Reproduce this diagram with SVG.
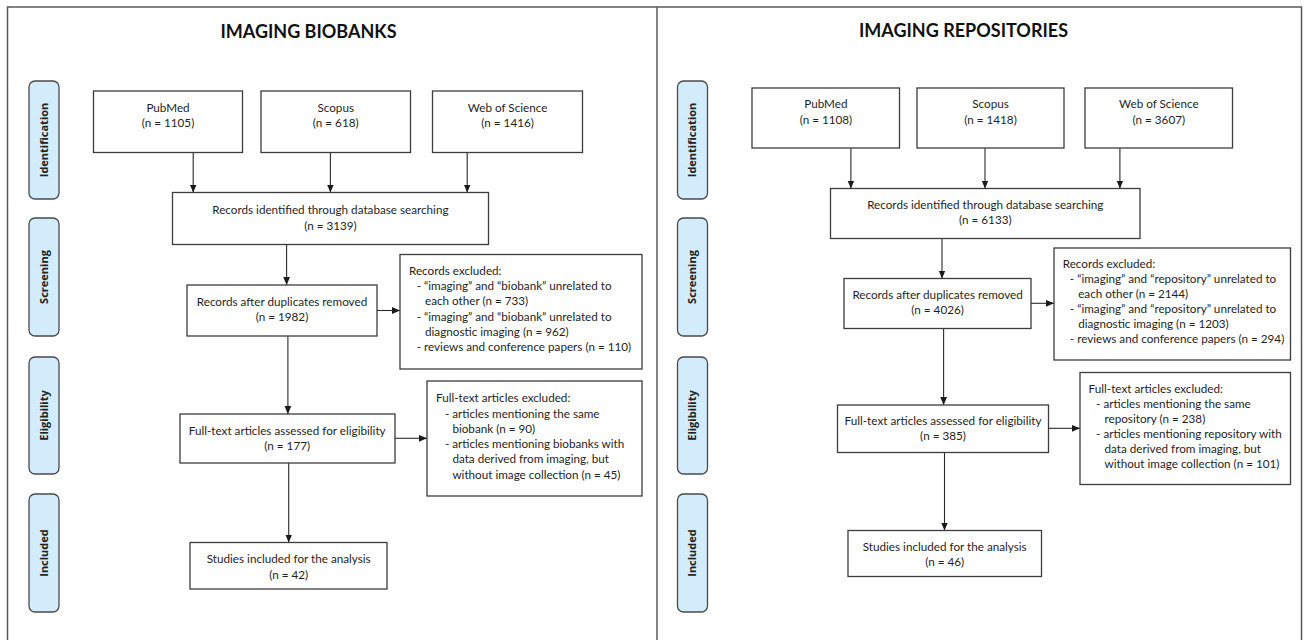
<svg xmlns="http://www.w3.org/2000/svg" width="1305" height="640" viewBox="0 0 1305 640">
<style>
.frame{fill:none;stroke:#5a5a5a;stroke-width:1.5}
.box{fill:#fff;stroke:#3c3c3c;stroke-width:1.3}
.phase{fill:#d3ecfb;stroke:#4a4a4a;stroke-width:1.3}
.t{font-family:Lato,"Liberation Sans",sans-serif;font-size:11.7px;fill:#1e1e1e}
.c{text-anchor:middle}
.title{font-family:Lato,"Liberation Sans",sans-serif;font-size:18px;font-weight:bold;fill:#111;text-anchor:middle}
.pl{font-family:"Open Sans","Liberation Sans",sans-serif;font-size:11px;font-weight:bold;fill:#222;text-anchor:middle}
.ar{stroke:#2a2a2a;stroke-width:1.1;fill:none;marker-end:url(#ah)}
</style>
<defs>
<marker id="ah" markerUnits="userSpaceOnUse" markerWidth="8" markerHeight="8" viewBox="0 0 8 8" refX="8" refY="4" orient="auto">
<path d="M0,0.6 L8,4 L0,7.4 Z" fill="#1a1a1a"/>
</marker>
</defs>
<rect width="1305" height="640" fill="#fff"/>
<g id="frame">
<rect class="frame" x="7.5" y="7" width="1294" height="660"/>
<line class="frame" x1="657" y1="7" x2="657" y2="645"/>
</g>
<g id="titles">
<text class="title" x="308.5" y="38">IMAGING BIOBANKS</text>
<text class="title" x="963.5" y="36.5">IMAGING REPOSITORIES</text>
</g>
<g id="phases-left">
<g id="ph-l-id"><rect class="phase" x="29" y="81" width="30" height="118" rx="6"/><text class="pl" transform="translate(47.8,140) rotate(-90)">Identification</text></g>
<g id="ph-l-sc"><rect class="phase" x="29" y="218" width="30" height="118" rx="6"/><text class="pl" transform="translate(47.8,277) rotate(-90)">Screening</text></g>
<g id="ph-l-el"><rect class="phase" x="29" y="357" width="30" height="117" rx="6"/><text class="pl" transform="translate(47.8,415.5) rotate(-90)">Eligibility</text></g>
<g id="ph-l-in"><rect class="phase" x="29" y="494" width="30" height="118" rx="6"/><text class="pl" transform="translate(47.8,553) rotate(-90)">Included</text></g>
</g>
<g id="phases-right">
<g id="ph-r-id"><rect class="phase" x="677.5" y="81" width="30" height="118" rx="6"/><text class="pl" transform="translate(696.3,140) rotate(-90)">Identification</text></g>
<g id="ph-r-sc"><rect class="phase" x="677.5" y="218" width="30" height="118" rx="6"/><text class="pl" transform="translate(696.3,277) rotate(-90)">Screening</text></g>
<g id="ph-r-el"><rect class="phase" x="677.5" y="357" width="30" height="117" rx="6"/><text class="pl" transform="translate(696.3,415.5) rotate(-90)">Eligibility</text></g>
<g id="ph-r-in"><rect class="phase" x="677.5" y="494" width="30" height="118" rx="6"/><text class="pl" transform="translate(696.3,553) rotate(-90)">Included</text></g>
</g>
<g id="connectors">
<line class="ar" x1="193.2" y1="152.5" x2="193.2" y2="192.5"/>
<line class="ar" x1="330.4" y1="152.5" x2="330.4" y2="192.5"/>
<line class="ar" x1="467.2" y1="152.5" x2="467.2" y2="192.5"/>
<line class="ar" x1="286.6" y1="244.5" x2="286.6" y2="285"/>
<line class="ar" x1="377" y1="310.5" x2="400" y2="310.5"/>
<line class="ar" x1="287.9" y1="336" x2="287.9" y2="414"/>
<line class="ar" x1="395" y1="438.3" x2="427" y2="438.3"/>
<line class="ar" x1="288.7" y1="463" x2="288.7" y2="542.5"/>
<line class="ar" x1="850.9" y1="148" x2="850.9" y2="188.5"/>
<line class="ar" x1="985" y1="148" x2="985" y2="188.5"/>
<line class="ar" x1="1119.9" y1="148" x2="1119.9" y2="188.5"/>
<line class="ar" x1="942" y1="238.5" x2="942" y2="278.5"/>
<line class="ar" x1="1031" y1="303.3" x2="1054" y2="303.3"/>
<line class="ar" x1="943.6" y1="328.5" x2="943.6" y2="405"/>
<line class="ar" x1="1048.5" y1="428.3" x2="1080" y2="428.3"/>
<line class="ar" x1="944.5" y1="452.5" x2="944.5" y2="530.5"/>
</g>
<g id="l-pubmed"><rect class="box" x="93.5" y="91" width="149" height="61.5"/><text class="t c" x="168" y="111.8">PubMed</text><text class="t c" x="168" y="127.4">(n = 1105)</text></g>
<g id="l-scopus"><rect class="box" x="261" y="91" width="149.5" height="61.5"/><text class="t c" x="335.7" y="111.8">Scopus</text><text class="t c" x="335.7" y="127.4">(n = 618)</text></g>
<g id="l-wos"><rect class="box" x="432.5" y="91" width="150" height="61.5"/><text class="t c" x="507.6" y="111.8">Web of Science</text><text class="t c" x="507.6" y="127.4">(n = 1416)</text></g>
<g id="l-identified"><rect class="box" x="172.5" y="192.5" width="316" height="52"/><text class="t c" x="330.4" y="214.1">Records identified through database searching</text><text class="t c" x="330.4" y="229.8">(n = 3139)</text></g>
<g id="l-dup"><rect class="box" x="187" y="285" width="190" height="51"/><text class="t c" x="282" y="305.8">Records after duplicates removed</text><text class="t c" x="282" y="320.8">(n = 1982)</text></g>
<g id="l-excl"><rect class="box" x="400" y="254.5" width="242" height="114.5"/>
<text class="t" x="409" y="275.1">Records excluded:</text>
<text class="t" x="416.7" y="290.4">- “imaging” and “biobank” unrelated to</text>
<text class="t" x="425" y="305.4">each other (n = 733)</text>
<text class="t" x="416.7" y="320.8">- “imaging” and “biobank” unrelated to</text>
<text class="t" x="425" y="336.1">diagnostic imaging (n = 962)</text>
<text class="t" x="416.7" y="351.4">- reviews and conference papers (n = 110)</text></g>
<g id="l-fulltext"><rect class="box" x="180" y="414" width="215" height="49"/><text class="t c" x="287.2" y="435.1">Full-text articles assessed for eligibility</text><text class="t c" x="287.2" y="450.4">(n = 177)</text></g>
<g id="l-ftexcl"><rect class="box" x="427" y="381" width="215" height="115"/>
<text class="t" x="436" y="402.4">Full-text articles excluded:</text>
<text class="t" x="444.9" y="417.8">- articles mentioning the same</text>
<text class="t" x="452.4" y="432.8">biobank (n = 90)</text>
<text class="t" x="444.9" y="448.4">- articles mentioning biobanks with</text>
<text class="t" x="452.4" y="463.4">data derived from imaging, but</text>
<text class="t" x="452.4" y="478.8">without image collection (n = 45)</text></g>
<g id="l-studies"><rect class="box" x="190" y="542.5" width="197" height="46.5"/><text class="t c" x="288.7" y="563.4">Studies included for the analysis</text><text class="t c" x="288.7" y="579.1">(n = 42)</text></g>
<g id="r-pubmed"><rect class="box" x="752" y="88" width="147.5" height="60"/><text class="t c" x="825.9" y="108.4">PubMed</text><text class="t c" x="825.9" y="123.8">(n = 1108)</text></g>
<g id="r-scopus"><rect class="box" x="917" y="88" width="147" height="60"/><text class="t c" x="990.5" y="108.4">Scopus</text><text class="t c" x="990.5" y="123.8">(n = 1418)</text></g>
<g id="r-wos"><rect class="box" x="1085" y="88" width="147.5" height="60"/><text class="t c" x="1158.8" y="108.4">Web of Science</text><text class="t c" x="1158.8" y="123.8">(n = 3607)</text></g>
<g id="r-identified"><rect class="box" x="830.5" y="188.5" width="309.5" height="50"/><text class="t c" x="985.3" y="208.8">Records identified through database searching</text><text class="t c" x="985.3" y="224.1">(n = 6133)</text></g>
<g id="r-dup"><rect class="box" x="844" y="278.5" width="187" height="50"/><text class="t c" x="937.6" y="298.8">Records after duplicates removed</text><text class="t c" x="937.6" y="314.1">(n = 4026)</text></g>
<g id="r-excl"><rect class="box" x="1054" y="248" width="236.5" height="112"/>
<text class="t" x="1062.7" y="268.4">Records excluded:</text>
<text class="t" x="1069.8" y="283.4">- “imaging” and “repository” unrelated to</text>
<text class="t" x="1078.2" y="298.4">each other (n = 2144)</text>
<text class="t" x="1069.8" y="313.4">- “imaging” and “repository” unrelated to</text>
<text class="t" x="1078.2" y="328.1">diagnostic imaging (n = 1203)</text>
<text class="t" x="1069.8" y="343.4">- reviews and conference papers (n = 294)</text></g>
<g id="r-fulltext"><rect class="box" x="837.5" y="405" width="211" height="47.5"/><text class="t c" x="943" y="425.4">Full-text articles assessed for eligibility</text><text class="t c" x="943" y="440.4">(n = 385)</text></g>
<g id="r-ftexcl"><rect class="box" x="1080" y="372.5" width="210.5" height="112"/>
<text class="t" x="1088.6" y="393.4">Full-text articles excluded:</text>
<text class="t" x="1096.1" y="408.4">- articles mentioning the same</text>
<text class="t" x="1104.5" y="423.1">repository (n = 238)</text>
<text class="t" x="1096.1" y="438.1">- articles mentioning repository with</text>
<text class="t" x="1104.5" y="453.1">data derived from imaging, but</text>
<text class="t" x="1104.5" y="468.1">without image collection (n = 101)</text></g>
<g id="r-studies"><rect class="box" x="848" y="530.5" width="193.5" height="46"/><text class="t c" x="944.7" y="551.4">Studies included for the analysis</text><text class="t c" x="944.7" y="566.4">(n = 46)</text></g>
</svg>
